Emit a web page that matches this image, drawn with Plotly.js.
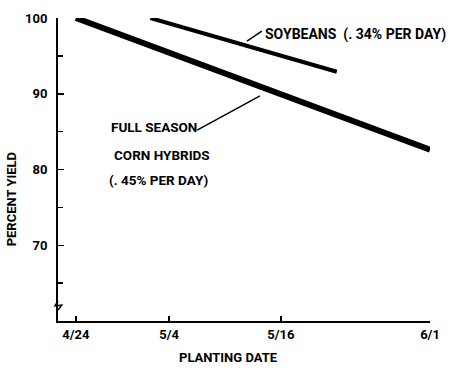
<!DOCTYPE html>
<html><head><meta charset="utf-8">
<script src="https://cdn.plot.ly/plotly-3.0.1.min.js"></script>
<style>html,body{margin:0;padding:0;background:#fff}#c{width:455px;height:368px}</style>
</head><body><div id="c"></div>
<script>
// Data
const cornDates = ['1980-04-24', '1980-06-01'];
const cornYield = [100, 82.6];
const soyDates = ['1980-05-02', '1980-05-22'];
const soyYield = [100, 92.9];
const xTickVals = ['1980-04-24', '1980-05-04', '1980-05-16', '1980-06-01'];
const xTickText = ['4/24', '5/4', '5/16', '6/1'];
const yTickVals = [70, 80, 90, 100];

const F = 'Roboto, sans-serif';
const tf = {family: F, size: 13, color: '#000', weight: 'bold'};
const af = {family: F, size: 13.5, color: '#000', weight: 'bold'};

const traces = [
  {x: cornDates, y: cornYield, mode: 'lines', line: {color: '#000', width: 6}, cliponaxis: false, hoverinfo: 'skip'},
  {x: soyDates, y: soyYield, mode: 'lines', line: {color: '#000', width: 4}, cliponaxis: false, hoverinfo: 'skip'}
];

function ann(text, x, y, xa, f) {
  return {text: text, x: x, y: y, xref: 'paper', yref: 'paper', showarrow: false,
          xanchor: xa || 'center', yanchor: 'middle', font: f || af};
}

const layout = {
  width: 455, height: 368,
  margin: {l: 58, r: 25, t: 18, b: 47},
  paper_bgcolor: '#fff', plot_bgcolor: '#fff',
  showlegend: false,
  xaxis: {
    type: 'date', range: ['1980-04-22 02:00', '1980-06-01'],
    tickvals: xTickVals, ticktext: xTickText,
    ticks: 'inside', ticklen: 5, tickwidth: 1.5, tickcolor: '#000',
    showline: true, linecolor: '#000', linewidth: 2,
    showgrid: false, zeroline: false, tickfont: tf, fixedrange: true
  },
  yaxis: {
    range: [60, 100],
    tickvals: yTickVals,
    ticks: 'inside', ticklen: 6, tickwidth: 1.5, tickcolor: '#000',
    minor: {tickvals: [65, 75, 85, 95], ticks: 'inside', ticklen: 5, tickwidth: 1.5, tickcolor: '#000'},
    showline: true, linecolor: '#000', linewidth: 2,
    showgrid: false, zeroline: false, tickfont: tf, ticklabelstandoff: 6, fixedrange: true
  },
  annotations: [
    ann('SOYBEANS  (. 34% PER DAY)', 0.551, 0.944, 'left', {family: F, size: 14, color: '#000', weight: 'bold'}),
    ann('FULL SEASON', 0.258, 0.640),
    ann('CORN HYBRIDS', 0.280, 0.548),
    ann('(. 45% PER DAY)', 0.269, 0.465),
    Object.assign(ann('PERCENT YIELD', -0.124, 0.401, 'center', tf), {textangle: -90}),
    ann('PLANTING DATE', 0.457, -0.122, 'center', tf)
  ],
  shapes: [
    {type: 'line', xref: 'paper', yref: 'paper', x0: 0.508, y0: 0.924, x1: 0.548, y1: 0.957, line: {color: '#000', width: 1.5}},
    {type: 'line', xref: 'paper', yref: 'paper', x0: 0.374, y0: 0.630, x1: 0.543, y1: 0.743, line: {color: '#000', width: 1.5}},
    {type: 'path', xref: 'paper', yref: 'paper',
     path: 'M 0 0.066 L -0.008 0.050 L 0.01 0.052 L 0 0.036', line: {color: '#000', width: 1.5}}
  ]
};

Plotly.newPlot('c', traces, layout, {staticPlot: true, displayModeBar: false});
</script></body></html>
